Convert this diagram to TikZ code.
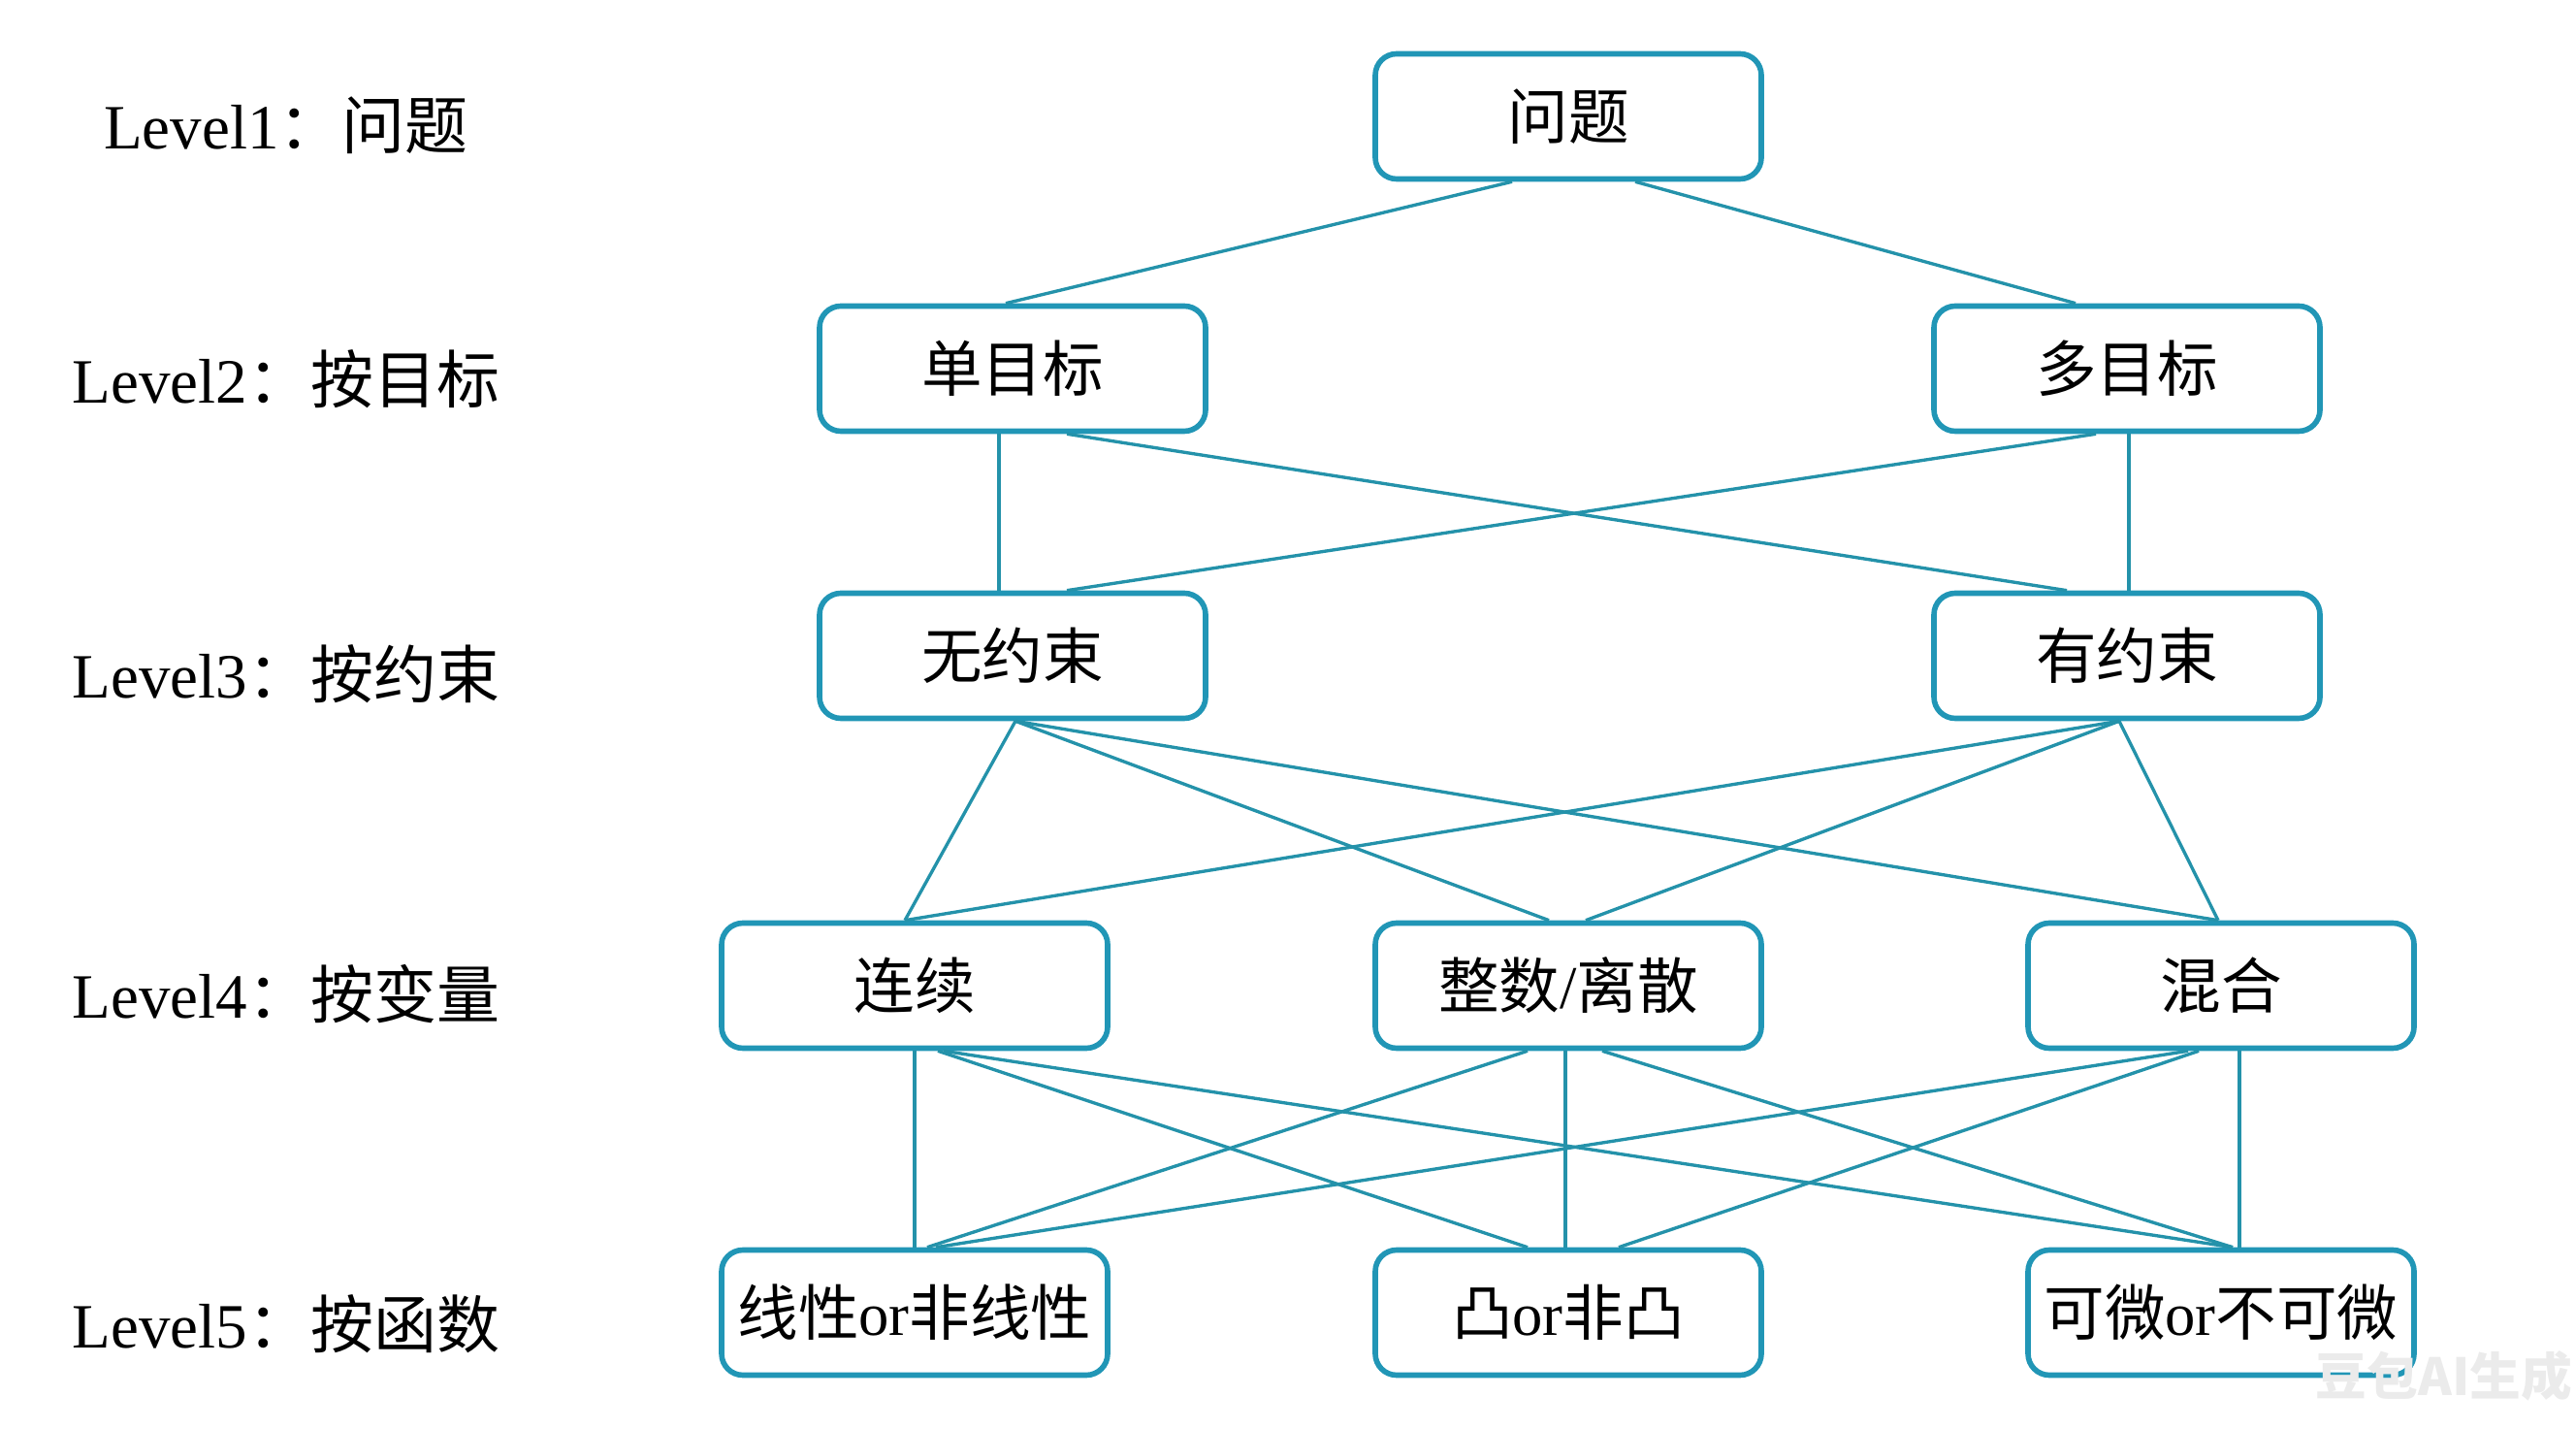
\documentclass[tikz,border=0pt]{standalone}
\usepackage{fontspec}
\setmainfont{Liberation Serif}
\newfontfamily\cjk{Noto Sans CJK SC}
\definecolor{boxteal}{RGB}{33,150,182}
\definecolor{lineteal}{RGB}{36,146,170}
\tikzstyle{catbox}=[rectangle, rounded corners=0.22cm, draw=boxteal, line width=1.6pt, fill=white, minimum width=3.98cm, minimum height=1.29cm, inner sep=0pt, font=\fontsize{17.8}{21}\selectfont]
\tikzstyle{lvtext}=[inner sep=0pt, font=\fontsize{18.5}{22}\selectfont]
\newcommand{\zh}[1]{{\cjk #1}}
\newcommand{\catbox}{\node[catbox]}
\newcommand{\lvtext}{\node[lvtext]}

\begin{document}
\begin{tikzpicture}[x=1cm, y=1cm
  ,every edge/.style={draw=lineteal, line width=0.95pt}
]
\useasboundingbox (0,0) rectangle (26.56,14.72);
% level names
\lvtext (l1) at (2.95,13.43) {Level1\zh{：问题}};
\lvtext (l2) at (2.95,10.81) {Level2\zh{：按目标}};
\lvtext (l3) at (2.95, 7.77) {Level3\zh{：按约束}};
\lvtext (l4) at (2.95, 4.47) {Level4\zh{：按变量}};
\lvtext (l5) at (2.95, 1.07) {Level5\zh{：按函数}};
% boxes
\catbox (wt) at (16.17,13.52) {\zh{问题}};
\catbox (dan) at (10.44,10.92) {\zh{单目标}};
\catbox (duo) at (21.93,10.92) {\zh{多目标}};
\catbox (wu) at (10.44, 7.96) {\zh{无约束}};
\catbox (you) at (21.93, 7.96) {\zh{有约束}};
\catbox (lx) at ( 9.43, 4.56) {\zh{连续}};
\catbox (zs) at (16.17, 4.56) {\zh{整数}/\zh{离散}};
\catbox (hh) at (22.90, 4.56) {\zh{混合}};
\catbox (xx) at ( 9.43, 1.19) {\zh{线性}or\zh{非线性}};
\catbox (tu) at (16.17, 1.19) {\zh{凸}or\zh{非凸}};
\catbox (kw) at (22.90, 1.19) {\zh{可微}or\zh{不可微}};
\path
([xshift=-0.58cm]wt.south) edge ([xshift=-0.07cm]dan.north)
([xshift=0.69cm]wt.south) edge ([xshift=-0.53cm]duo.north)
([xshift=-0.14cm]dan.south) edge ([xshift=-0.14cm]wu.north)
([xshift=0.56cm]dan.south) edge ([xshift=-0.62cm]you.north)
([xshift=-0.32cm]duo.south) edge ([xshift=0.56cm]wu.north)
([xshift=0.02cm]duo.south) edge ([xshift=0.02cm]you.north)
([xshift=0.03cm]wu.south) edge ([xshift=-0.10cm]lx.north)
                           edge ([xshift=-0.20cm]zs.north)
                           edge ([xshift=-0.03cm]hh.north)
([xshift=-0.08cm]you.south) edge ([xshift=-0.10cm]lx.north)
                            edge ([xshift=0.18cm]zs.north)
                            edge ([xshift=-0.03cm]hh.north)
(lx.south) edge (xx.north)
([xshift=0.24cm]lx.south) edge ([xshift=-0.42cm]tu.north)
([xshift=0.30cm]lx.south) edge ([xshift=0.12cm]kw.north)
([xshift=-0.42cm]zs.south) edge ([xshift=0.13cm]xx.north)
([xshift=-0.03cm]zs.south) edge ([xshift=-0.03cm]tu.north)
([xshift=0.35cm]zs.south) edge ([xshift=0.12cm]kw.north)
([xshift=-0.34cm]hh.south) edge ([xshift=0.22cm]xx.north)
([xshift=-0.23cm]hh.south) edge ([xshift=0.52cm]tu.north)
([xshift=0.19cm]hh.south) edge ([xshift=0.19cm]kw.north)
;
\node (wm) at (25.20,0.54) [text=black!8, font=\cjk\bfseries\fontsize{15}{15}\selectfont] {豆包AI生成};
\end{tikzpicture}
\end{document}
